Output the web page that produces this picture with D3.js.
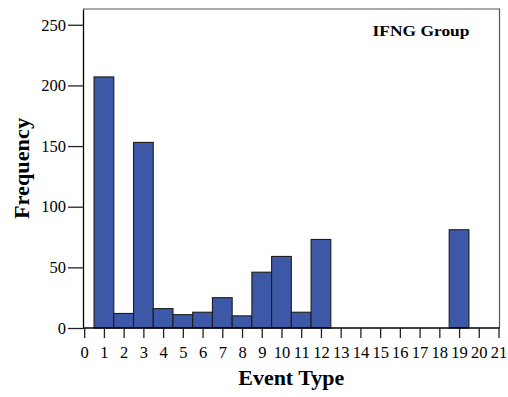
<!DOCTYPE html>
<html>
<head>
<meta charset="utf-8">
<script src="https://cdn.jsdelivr.net/npm/d3@7"></script>
<style>
  body { margin: 0; background: #fff; }
  svg text { font-family: "Liberation Serif", "Times New Roman", serif; fill: #000; }
</style>
</head>
<body>
<div id="chart"></div>
<script>
// event types (bin centres) and how often each one occurred
const eventTypes = [0, 1, 2, 3, 4, 5, 6, 7, 8, 9, 10, 11, 12, 13, 14, 15, 16, 17, 18, 19, 20];
const frequencies = [0, 207, 12, 153, 16, 11, 13, 25, 10, 46, 59, 13, 73, 0, 0, 0, 0, 0, 0, 81, 0];
const xTicks = d3.range(0, 22);
const yTicks = [0, 50, 100, 150, 200, 250];

const width = 508, height = 397;
const plotLeft = 83, plotRight = 499.5, plotTop = 9, plotBottom = 328;

const svg = d3.select('#chart')
    .append('svg')
    .attr('width', width)
    .attr('height', height);

const x = d3.scaleLinear().domain([-0.06, 21.05]).range([plotLeft, plotRight]);
const y = d3.scaleLinear().domain([0, 263]).range([plotBottom, plotTop]);

// frame (top + right)
svg.append('path')
    .attr('d', `M${plotLeft},${plotTop}H${plotRight}V${plotBottom}`)
    .attr('fill', 'none')
    .attr('stroke', '#555')
    .attr('stroke-width', 1.2);

const data = eventTypes.map((t, i) => ({ type: t, freq: frequencies[i] }))
    .filter(d => d.freq > 0);

svg.selectAll('.bar')
    .data(data)
    .enter()
    .append('rect')
    .attr('class', 'bar')
    .attr('x', d => x(d.type - 0.5))
    .attr('y', d => y(d.freq))
    .attr('width', d => x(d.type + 0.5) - x(d.type - 0.5))
    .attr('height', d => y(0) - y(d.freq))
    .attr('fill', '#3e58a8')
    .attr('stroke', '#1c1c1c')
    .attr('stroke-width', 1.1);

const xAxis = svg.append('g')
    .attr('transform', `translate(0,${plotBottom})`)
    .call(d3.axisBottom(x).tickValues(xTicks).tickSize(10).tickPadding(8).tickSizeOuter(0));

const yAxis = svg.append('g')
    .attr('transform', `translate(${plotLeft},0)`)
    .call(d3.axisLeft(y).tickValues(yTicks).tickSize(15).tickPadding(2).tickSizeOuter(0));

[xAxis, yAxis].forEach(g => {
    g.attr('font-family', null).attr('font-size', null);
    g.select('.domain').attr('stroke', '#000').attr('stroke-width', 1.3);
    g.selectAll('.tick line').attr('stroke', '#222').attr('stroke-width', 1.3);
    g.selectAll('.tick text')
        .style('font-family', '"Liberation Serif", "Times New Roman", serif')
        .style('font-size', '16.5px')
        .attr('fill', '#000');
});
// bottom axis line runs along the whole frame
xAxis.select('.domain').attr('d', `M${plotLeft},0H${plotRight}`);

// axis titles
svg.append('text')
    .attr('x', (plotLeft + plotRight) / 2)
    .attr('y', 385)
    .attr('text-anchor', 'middle')
    .attr('font-size', 20)
    .attr('font-weight', 'bold')
    .attr('textLength', 106)
    .attr('lengthAdjust', 'spacingAndGlyphs')
    .text('Event Type');

svg.append('text')
    .attr('transform', 'translate(28.5,168.5) rotate(-90)')
    .attr('text-anchor', 'middle')
    .attr('font-size', 20)
    .attr('font-weight', 'bold')
    .attr('textLength', 101)
    .attr('lengthAdjust', 'spacingAndGlyphs')
    .text('Frequency');

// group label
svg.append('text')
    .attr('x', 372.5)
    .attr('y', 35.5)
    .attr('font-size', 15)
    .attr('font-weight', 'bold')
    .attr('textLength', 97)
    .attr('lengthAdjust', 'spacingAndGlyphs')
    .text('IFNG Group');
</script>
</body>
</html>
